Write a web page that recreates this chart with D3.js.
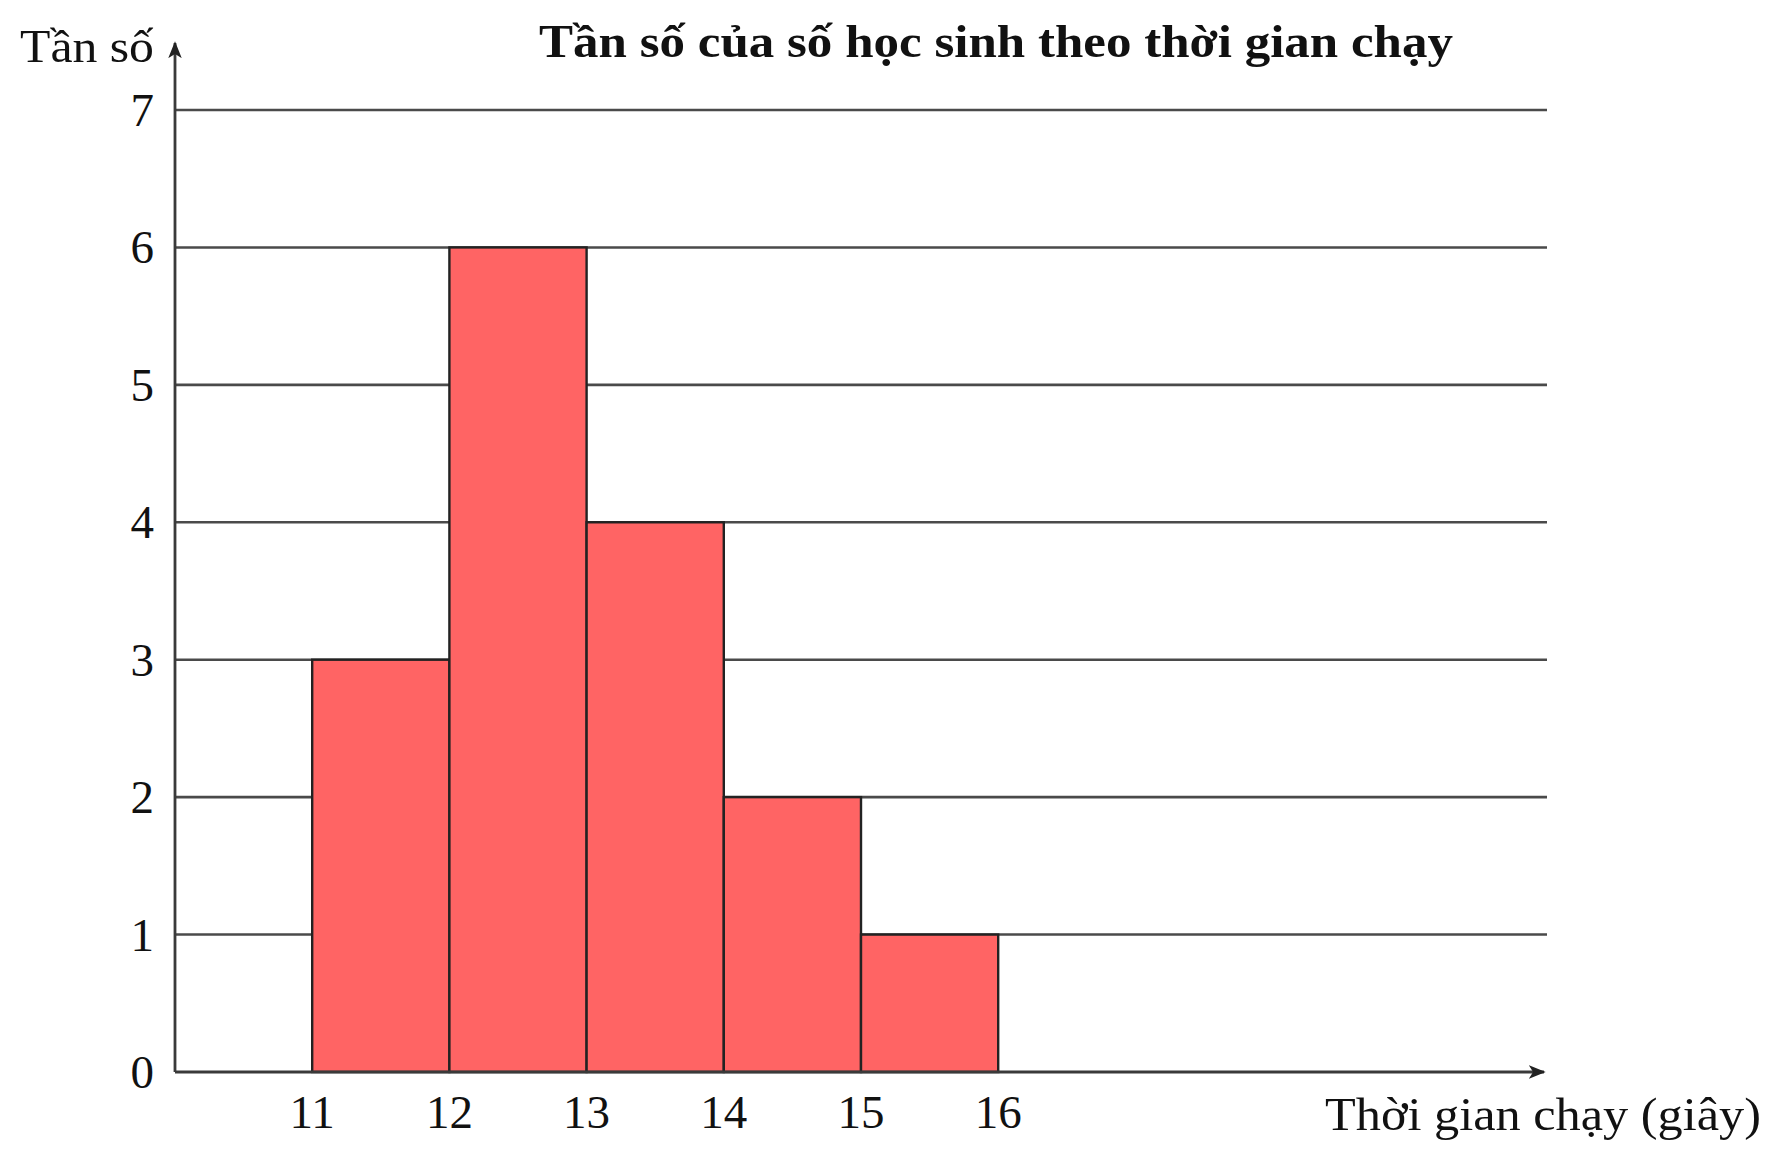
<!DOCTYPE html>
<html>
<head>
<meta charset="utf-8">
<script src="https://cdn.jsdelivr.net/npm/d3@7"></script>
<style>
  html, body { margin: 0; padding: 0; background: #fff; }
  svg { display: block; }
  text { font-family: "Liberation Serif", "DejaVu Serif", serif; fill: #111; }
</style>
</head>
<body>
<svg id="chart" width="1779" height="1156"></svg>
<script>
const binEdges = [11, 12, 13, 14, 15, 16];
const frequencies = [3, 6, 4, 2, 1];
const yTicks = [0, 1, 2, 3, 4, 5, 6, 7];
const title = "Tần số của số học sinh theo thời gian chạy";
const yLabel = "Tần số";
const xLabel = "Thời gian chạy (giây)";

const svg = d3.select("#chart");
const x = d3.scaleLinear().domain([10, 20]).range([175, 1547]);
const y = d3.scaleLinear().domain([0, 7]).range([1072, 110]);

const bins = frequencies.map((f, i) => ({ x0: binEdges[i], x1: binEdges[i + 1], f }));

// arrow marker
const defs = svg.append("defs");
defs.append("marker")
  .attr("id", "arrow")
  .attr("viewBox", "0 0 10 10")
  .attr("refX", 9).attr("refY", 5)
  .attr("markerWidth", 6).attr("markerHeight", 6)
  .attr("markerUnits", "strokeWidth")
  .attr("orient", "auto")
  .append("path")
  .attr("d", "M0,1 L10,5 L0,9 L2.5,5 Z")
  .attr("fill", "#222");

// gridlines
svg.append("g").selectAll("line")
  .data(yTicks.filter(d => d > 0))
  .join("line")
  .attr("x1", x(10)).attr("x2", x(20))
  .attr("y1", d => y(d)).attr("y2", d => y(d))
  .attr("stroke", "#4a4a4a").attr("stroke-width", 2.6);

// bars
svg.append("g").selectAll("rect")
  .data(bins)
  .join("rect")
  .attr("x", d => x(d.x0))
  .attr("y", d => y(d.f))
  .attr("width", d => x(d.x1) - x(d.x0))
  .attr("height", d => y(0) - y(d.f))
  .attr("fill", "#ff6464")
  .attr("stroke", "#222")
  .attr("stroke-width", 2.4);

// axes lines with arrows
svg.append("line")
  .attr("x1", x(10)).attr("y1", y(0))
  .attr("x2", 1544).attr("y2", y(0))
  .attr("stroke", "#3a3a3a").attr("stroke-width", 2.8)
  .attr("marker-end", "url(#arrow)");
svg.append("line")
  .attr("x1", x(10)).attr("y1", y(0))
  .attr("x2", x(10)).attr("y2", 43)
  .attr("stroke", "#3a3a3a").attr("stroke-width", 2.8)
  .attr("marker-end", "url(#arrow)");

// y tick labels
svg.append("g").selectAll("text")
  .data(yTicks)
  .join("text")
  .attr("x", 154)
  .attr("y", d => y(d))
  .attr("dy", "0.34em")
  .attr("text-anchor", "end")
  .attr("font-size", 47)
  .text(d => d);

// x tick labels
svg.append("g").selectAll("text")
  .data(binEdges)
  .join("text")
  .attr("x", d => x(d))
  .attr("y", 1128)
  .attr("text-anchor", "middle")
  .attr("font-size", 47)
  .text(d => d);

// labels
svg.append("text")
  .attr("x", 20).attr("y", 62)
  .attr("font-size", 47)
  .attr("textLength", 134)
  .attr("lengthAdjust", "spacingAndGlyphs")
  .text(yLabel);

svg.append("text")
  .attr("x", 1325).attr("y", 1130)
  .attr("font-size", 47)
  .attr("textLength", 436)
  .attr("lengthAdjust", "spacingAndGlyphs")
  .text(xLabel);

svg.append("text")
  .attr("x", 539).attr("y", 57)
  .attr("font-size", 47)
  .attr("font-weight", "bold")
  .attr("textLength", 914)
  .attr("lengthAdjust", "spacingAndGlyphs")
  .text(title);
</script>
</body>
</html>
